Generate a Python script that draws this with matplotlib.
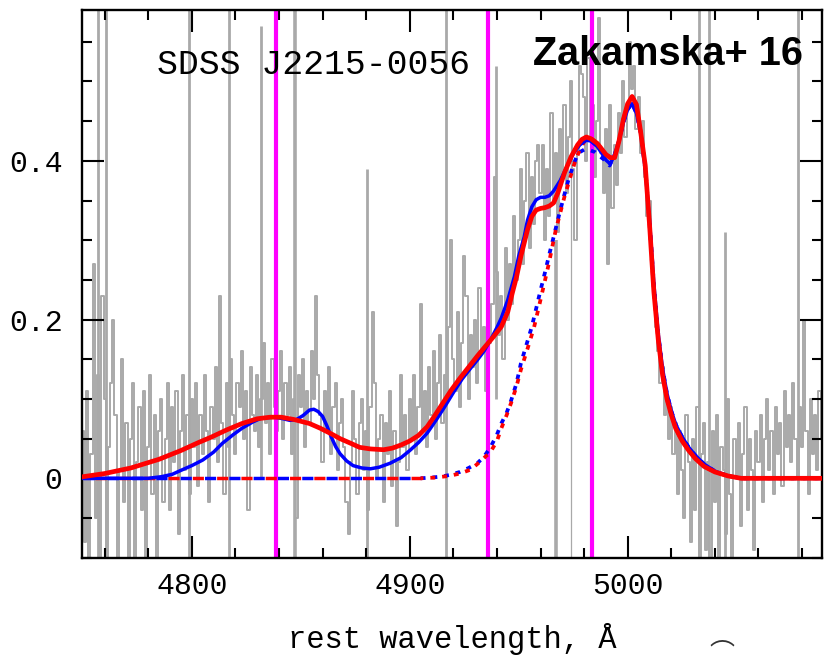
import numpy as np
import matplotlib
matplotlib.use("Agg")
import matplotlib.pyplot as plt
from matplotlib.ticker import MultipleLocator, FuncFormatter

plt.rcParams['lines.scale_dashes'] = False

# rest-frame spectrum, 1 A bins from 4750 to 5090 (one row = 10 A)
wave = np.arange(4750, 5091, 1)
flux = [0.06, -0.08, 0.11, -0.13, 0.03, 0.27, -0.05, 0.13, -0.11, 0.23,
        0.10, -0.14, 0.04, 0.12, 0.20, 0.08, -0.12, 0.01, 0.15, -0.03,
        0.07, -0.10, 0.05, 0.12, -0.15, 0.02, 0.09, -0.04, 0.11, -0.12,
        0.04, 0.13, -0.02, 0.08, -0.13, 0.06, 0.10, -0.03, 0.05, 0.12,
        -0.04, 0.09, 0.02, 0.11, -0.07, 0.06, 0.13, 0.01, 0.08, -0.02,
        0.10, 0.04, 0.12, -0.01, 0.08, 0.03, 0.13, 0.06, -0.03, 0.09,
        0.05, 0.14, 0.02, 0.23, 0.07, -0.02, 0.12, 0.04, 0.15, 0.08,
        0.03, 0.12, 0.09, 0.16, 0.05, 0.11, -0.04, 0.14, 0.08, 0.06,
        0.13, 0.04, 0.10, 0.17, 0.07, 0.12, 0.03, 0.15, 0.09, 0.06,
        0.11, 0.16, 0.05, 0.12, 0.08, 0.14, 0.03, 0.10, -0.05, 0.13,
        0.09, 0.15, 0.04, 0.11, 0.07, 0.16, 0.10, 0.23, 0.13, 0.08,
        0.02, 0.11, 0.06, 0.14, 0.03, 0.09, 0.12, 0.01, 0.07, 0.10,
        0.04, -0.03, -0.07, 0.02, 0.11, 0.05, -0.02, 0.07, 0.10, 0.01,
        0.06, -0.04, 0.09, 0.21, 0.12, 0.00, 0.05, 0.08, -0.03, 0.07,
        0.03, 0.11, -0.01, 0.06, -0.06, 0.02, 0.13, 0.04, 0.08, 0.01,
        0.10, 0.05, 0.13, 0.03, 0.09, 0.22, 0.06, 0.11, 0.04, 0.14,
        0.08, 0.16, 0.05, 0.12, 0.18, 0.07, 0.13, 0.10, 0.19, 0.30,
        0.15, 0.11, 0.21, 0.09, 0.17, 0.28, 0.23, 0.10, 0.18, 0.14,
        0.20, 0.12, 0.24, 0.16, 0.19, 0.11, 0.25, 0.17, 0.22, 0.38,
        0.26, 0.18, 0.23, 0.15, 0.29, 0.20, 0.27, 0.22, 0.33, 0.25,
        0.30, 0.39, 0.27, 0.35, 0.41, 0.29, 0.38, 0.32, 0.40, 0.42,
        0.36, 0.42, 0.30, 0.39, 0.33, 0.46, 0.35, 0.41, 0.31, 0.44,
        0.38, 0.47, 0.36, 0.43, 0.50, 0.39, 0.30, 0.41, 0.52, 0.51,
        0.48, 0.40, 0.53, 0.43, 0.47, 0.38, 0.45, 0.58, 0.41, 0.36,
        0.44, 0.27, 0.47, 0.34, 0.42, 0.37, 0.46, 0.41, 0.50, 0.43,
        0.47, 0.55, 0.49, 0.52, 0.44, 0.48, 0.41, 0.45, 0.38, 0.33,
        0.35, 0.28, 0.24, 0.19, 0.16, 0.12, 0.14, 0.08, 0.10, 0.05,
        0.09, 0.03, 0.07, -0.02, 0.06, 0.01, -0.05, 0.08, 0.02, -0.08,
        0.05, -0.04, 0.09, -0.12, 0.03, 0.07, -0.09, 0.02, -0.15, 0.06,
        -0.03, 0.08, -0.11, 0.04, 0.01, -0.07, 0.10, -0.02, -0.14, 0.05,
        0.00, 0.07, -0.06, 0.03, 0.09, -0.04, 0.05, 0.01, -0.09, 0.06,
        0.02, 0.08, -0.03, 0.05, 0.10, 0.01, 0.06, -0.02, 0.09, 0.03,
        0.07, -0.01, 0.11, 0.04, 0.08, 0.02, 0.12, 0.05, 0.00, 0.09,
        0.04, 0.20, 0.06, -0.02, 0.10, 0.03, 0.08, 0.01, 0.11, 0.05,
        0.07]

# bad pixels / sky residuals
spike_wave = [4757.1, 4760.8, 4798.6, 4817.1, 4831.8, 4847.5, 4880.6, 4916.6,
              4939.6, 4967.3, 4974.2, 5032.7, 5037.3, 5044.6, 5077.9]
spike_lo = [-0.1, -0.1, -0.1, -0.1, 0.0, -0.1, -0.1, -0.1,
            0.1, -0.1, -0.1, -0.1, -0.1, -0.1, -0.1]
spike_hi = [0.6, 0.6, 0.6, 0.6, 0.57, 0.6, 0.39, 0.6,
            0.52, 0.3, 0.5, 0.6, 0.6, 0.31, 0.6]
spike_lw = [2.0, 2.0, 2.0, 2.0, 2.0, 2.6, 2.0, 2.0,
            2.0, 2.6, 0.9, 2.0, 2.0, 2.0, 2.0]

# total fit, model 1 (blue)
fit1_wave = [4750, 4780, 4786, 4791, 4795, 4800, 4805, 4810, 4814, 4819,
             4823, 4828, 4832, 4838, 4842, 4845, 4848, 4851, 4854, 4856,
             4858, 4860, 4862, 4864, 4866, 4868, 4871, 4874, 4878, 4882,
             4886, 4891, 4896, 4900, 4904, 4908, 4912, 4916, 4920, 4924,
             4928, 4931, 4934, 4937, 4940, 4942, 4945, 4948, 4950, 4952.5,
             4954, 4956, 4958, 4960, 4962, 4964, 4966, 4969, 4972, 4975,
             4978, 4981, 4983, 4986, 4988, 4990, 4992, 4994, 4996, 4998,
             5000, 5002, 5004, 5006, 5008, 5010, 5012, 5014, 5016, 5018,
             5020, 5022, 5025, 5028, 5031, 5035, 5040, 5046, 5052, 5090]
fit1_flux = [0.000, 0.000, 0.002, 0.005, 0.010, 0.016, 0.023, 0.033, 0.044, 0.055,
             0.063, 0.071, 0.076, 0.077, 0.075, 0.073, 0.074, 0.079, 0.086, 0.087,
             0.084, 0.078, 0.066, 0.052, 0.040, 0.031, 0.022, 0.016, 0.013, 0.012,
             0.014, 0.019, 0.026, 0.035, 0.045, 0.057, 0.073, 0.090, 0.108, 0.125,
             0.139, 0.149, 0.160, 0.174, 0.190, 0.202, 0.225, 0.254, 0.280, 0.304,
             0.325, 0.342, 0.351, 0.354, 0.354, 0.356, 0.362, 0.375, 0.392, 0.409,
             0.420, 0.426, 0.425, 0.418, 0.410, 0.401, 0.396, 0.408, 0.425, 0.448,
             0.465, 0.472, 0.460, 0.435, 0.390, 0.325, 0.245, 0.182, 0.138, 0.107,
             0.085, 0.068, 0.052, 0.039, 0.029, 0.018, 0.009, 0.003, 0.000, 0.000]

# total fit, model 2 (red)
fit2_wave = [4750, 4760, 4772, 4785, 4795, 4803, 4809, 4816, 4823, 4830,
             4836, 4841, 4847, 4854, 4859, 4864, 4868, 4873, 4877, 4882,
             4888, 4892, 4896, 4900, 4904, 4908, 4911, 4915, 4919, 4923,
             4927, 4931, 4934, 4938, 4942, 4945, 4947, 4949, 4951, 4954,
             4956, 4958, 4960, 4962, 4964, 4966, 4968, 4971, 4974, 4977,
             4979, 4981, 4983, 4986, 4988, 4990, 4992, 4994, 4996, 4998,
             5000, 5002, 5004, 5006, 5008, 5010, 5012, 5014, 5016, 5018,
             5020, 5022, 5025, 5028, 5031, 5035, 5040, 5046, 5052, 5090]
fit2_flux = [0.002, 0.006, 0.013, 0.024, 0.035, 0.045, 0.052, 0.061, 0.069, 0.075,
             0.077, 0.077, 0.074, 0.069, 0.063, 0.056, 0.050, 0.044, 0.039, 0.037,
             0.036, 0.038, 0.042, 0.047, 0.054, 0.065, 0.077, 0.094, 0.111, 0.126,
             0.140, 0.154, 0.164, 0.177, 0.191, 0.210, 0.233, 0.254, 0.280, 0.313,
             0.330, 0.338, 0.340, 0.341, 0.343, 0.347, 0.360, 0.385, 0.405, 0.420,
             0.427, 0.430, 0.428, 0.422, 0.415, 0.408, 0.404, 0.404, 0.425, 0.452,
             0.472, 0.481, 0.471, 0.435, 0.395, 0.320, 0.235, 0.175, 0.130, 0.100,
             0.080, 0.063, 0.047, 0.035, 0.025, 0.015, 0.008, 0.003, 0.000, 0.000]

# [OIII] components only
oiii1_wave = [4750, 4905, 4910, 4914, 4918, 4923, 4927, 4931, 4934, 4937,
              4940, 4942, 4944.5, 4946.5, 4949, 4951, 4953.5, 4956, 4958, 4960,
              4962, 4964, 4966, 4968.7, 4970.8, 4972.8, 4975, 4976.5, 4978, 4980,
              4983, 4985, 4987, 4989.4, 4991.7, 4994, 4996, 4998, 5000, 5002,
              5004, 5006, 5008, 5010, 5012, 5014, 5016, 5018, 5020, 5022,
              5025, 5028, 5031, 5035, 5040, 5046, 5052, 5090]
oiii1_flux = [0.000, 0.000, 0.001, 0.002, 0.004, 0.008, 0.013, 0.019, 0.027, 0.039,
              0.055, 0.069, 0.083, 0.098, 0.120, 0.145, 0.168, 0.191, 0.214, 0.237,
              0.259, 0.282, 0.304, 0.334, 0.356, 0.376, 0.394, 0.405, 0.411, 0.414,
              0.413, 0.411, 0.406, 0.401, 0.394, 0.408, 0.425, 0.448, 0.465, 0.472,
              0.460, 0.435, 0.390, 0.325, 0.245, 0.182, 0.138, 0.107, 0.085, 0.068,
              0.052, 0.039, 0.029, 0.018, 0.009, 0.003, 0.000, 0.000]

oiii2_wave = [4750, 4905, 4912, 4918, 4923, 4928, 4932.7, 4935, 4937, 4940,
              4942, 4944.5, 4946.5, 4949, 4951, 4954, 4957, 4960, 4963.6, 4967,
              4971, 4975.6, 4978, 4980, 4983, 4986, 4988, 4990, 4992, 4994,
              4996, 4998, 5000, 5002, 5004, 5006, 5008, 5010, 5012, 5014,
              5016, 5018, 5020, 5022, 5025, 5028, 5031, 5035, 5040, 5046,
              5052, 5090]
oiii2_flux = [0.000, 0.000, 0.001, 0.003, 0.006, 0.011, 0.022, 0.028, 0.033, 0.047,
              0.063, 0.080, 0.095, 0.116, 0.137, 0.163, 0.190, 0.225, 0.268, 0.313,
              0.355, 0.397, 0.414, 0.424, 0.429, 0.422, 0.415, 0.408, 0.404, 0.404,
              0.425, 0.452, 0.472, 0.481, 0.471, 0.435, 0.395, 0.320, 0.235, 0.175,
              0.130, 0.100, 0.080, 0.063, 0.047, 0.035, 0.025, 0.015, 0.008, 0.003,
              0.000, 0.000]

# expected positions of Hbeta, [OIII] 4959, [OIII] 5007
line_wave = [4838.7, 4936.1, 4983.5]

GRAY = '#a9a9a9'
MONO = 'Liberation Mono'

fig = plt.figure(figsize=(8.27, 6.67), dpi=100)
ax = fig.add_axes([0.0991, 0.1639, 0.8945, 0.8211])

ax.plot(wave, flux, drawstyle='steps-mid', color=GRAY, lw=1.4, zorder=1)
ax.vlines(spike_wave, spike_lo, spike_hi, color=GRAY, lw=spike_lw, zorder=1)

for lw_ in line_wave:
    ax.axvline(lw_, color='#ff00ff', lw=3.0, zorder=2)

# flat part of the component curves dashed, rising part dotted
o1w = np.array(oiii1_wave); o1f = np.array(oiii1_flux)
o2w = np.array(oiii2_wave); o2f = np.array(oiii2_flux)
flat1 = o1w <= 4905
flat2 = o2w <= 4905
rise1 = o1w >= 4905
rise2 = o2w >= 4905
ax.plot(o1w[flat1], o1f[flat1], color='blue', lw=2.5, ls=(0, (8, 9.5)), zorder=3)
ax.plot(o2w[flat2], o2f[flat2], color='red', lw=2.5, ls=(8.8, (8, 9.5)), zorder=3)
ax.plot(o1w[rise1], o1f[rise1], color='blue', lw=2.7, ls=(0, (3.5, 5)), zorder=3)
ax.plot(o2w[rise2], o2f[rise2], color='red', lw=2.7, ls=(1.5, (3.5, 5)), zorder=3)

ax.plot(fit1_wave, fit1_flux, color='blue', lw=2.5, zorder=4)
ax.plot(fit2_wave, fit2_flux, color='red', lw=3.4, zorder=5)

ax.set_xlim(4749.6, 5089)
ax.set_ylim(-0.1, 0.59)

ax.xaxis.set_major_locator(MultipleLocator(100))
ax.xaxis.set_minor_locator(MultipleLocator(20))
ax.yaxis.set_major_locator(MultipleLocator(0.2))
ax.yaxis.set_minor_locator(MultipleLocator(0.05))
ax.yaxis.set_major_formatter(FuncFormatter(lambda v, p: '0' if abs(v) < 1e-9 else '%.1f' % v))

ax.tick_params(which='both', direction='in', top=True, right=True, width=1.5, colors='black')
ax.tick_params(which='major', length=16)
ax.tick_params(which='minor', length=7.5)
ax.tick_params(axis='x', which='major', pad=10)
ax.tick_params(axis='y', which='major', pad=14)
for lab in ax.get_xticklabels() + ax.get_yticklabels():
    lab.set_fontfamily(MONO)
    lab.set_fontsize(21.5)

for sp in ax.spines.values():
    sp.set_linewidth(1.7)

ax.set_xlabel('rest wavelength, Å', fontfamily=MONO, fontsize=22, labelpad=17)

ax.text(0.1014, 0.883, 'SDSS J2215-0056', transform=ax.transAxes,
        fontfamily=MONO, fontsize=25, va='baseline', ha='left')
ax.text(0.9747, 0.8996, 'Zakamska+ 16', transform=ax.transAxes,
        fontfamily='Liberation Sans', fontweight='bold', fontsize=28.5,
        va='baseline', ha='right')

fig.text(0.873, 0.0, '⌒', fontsize=18, ha='center', va='bottom', color='#333333',
         family=['Noto Sans CJK JP', 'DejaVu Sans'])

fig.savefig('out.png', dpi=100)
